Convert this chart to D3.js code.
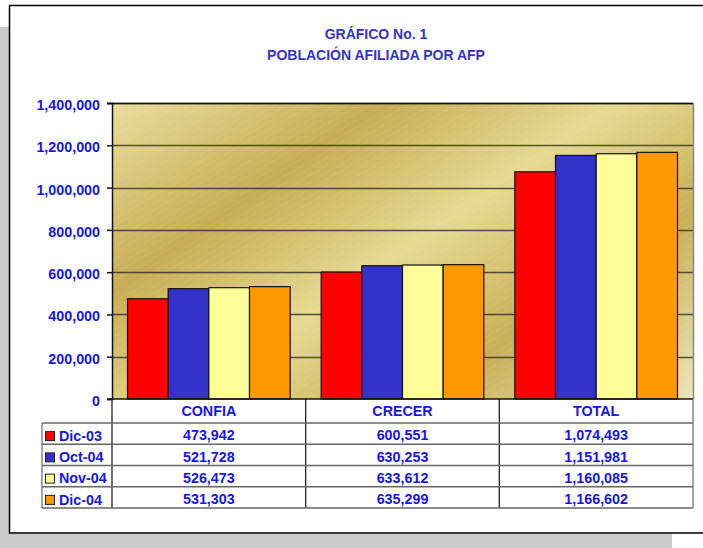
<!DOCTYPE html>
<html>
<head>
<meta charset="utf-8">
<script src="https://cdn.jsdelivr.net/npm/d3@7"></script>
<style>
  html, body { margin: 0; padding: 0; background: #ffffff; }
  svg { display: block; }
  text { font-family: "Liberation Sans", Arial, sans-serif; font-weight: bold; }
</style>
</head>
<body>
<svg id="chart" width="703" height="548"></svg>
<script>
// ---- Data ----
const categories = ["CONFIA", "CRECER", "TOTAL"];
const seriesNames = ["Dic-03", "Oct-04", "Nov-04", "Dic-04"];
const dic03 = [473942, 600551, 1074493];
const oct04 = [521728, 630253, 1151981];
const nov04 = [526473, 633612, 1160085];
const dic04 = [531303, 635299, 1166602];
const seriesColors = ["#FF0000", "#3333CC", "#FFFF99", "#FF9900"];
const yTicks = [0, 200000, 400000, 600000, 800000, 1000000, 1200000, 1400000];
const titleLines = ["GRÁFICO No. 1", "POBLACIÓN AFILIADA POR AFP"];

const seriesValues = [dic03, oct04, nov04, dic04];
const series = seriesNames.map((n, i) => ({ name: n, color: seriesColors[i], values: seriesValues[i] }));

// ---- Layout ----
const svg = d3.select("#chart");
const plot = { left: 112, right: 693, top: 103, bottom: 399 };
const textBlue = "#1515EE";
const titleBlue = "#3333CC";

// shadow + frame
svg.append("rect").attr("x", 0).attr("y", 27).attr("width", 672).attr("height", 521).attr("fill", "#cccccc");
svg.append("rect").attr("x", 9.5).attr("y", 5.5).attr("width", 720).attr("height", 527.5)
  .attr("fill", "#ffffff").attr("stroke", "#000").attr("stroke-width", 1.5);

// defs: gold gradient + stripes
const defs = svg.append("defs");
const grad = defs.append("linearGradient").attr("id", "gold")
  .attr("gradientUnits", "userSpaceOnUse")
  .attr("x1", 112).attr("y1", 103).attr("x2", 440).attr("y2", 575);
[[0, "#E9DE9E"], [0.27, "#C8AD55"], [0.5, "#E6DA92"], [0.73, "#C9AF58"], [1, "#EDE4B8"]]
  .forEach(([o, c]) => grad.append("stop").attr("offset", o).attr("stop-color", c));
const pat = defs.append("pattern").attr("id", "stripes").attr("patternUnits", "userSpaceOnUse")
  .attr("width", 6).attr("height", 6).attr("patternTransform", "rotate(-30)");
pat.append("line").attr("x1", 0).attr("y1", 0).attr("x2", 6).attr("y2", 0)
  .attr("stroke", "#ffffff").attr("stroke-opacity", 0.18).attr("stroke-width", 1).attr("stroke-dasharray", "2,1");

// scales
const x0 = d3.scaleBand().domain(categories).range([plot.left, plot.right]).padding(0);
const x1 = d3.scaleBand().domain(seriesNames).range([0, x0.bandwidth()]).paddingInner(0).paddingOuter(0.381);
const y = d3.scaleLinear().domain([0, 1400000]).range([plot.bottom, plot.top]);

// plot background
svg.append("rect").attr("x", plot.left).attr("y", plot.top)
  .attr("width", plot.right - plot.left).attr("height", plot.bottom - plot.top).attr("fill", "url(#gold)");
svg.append("rect").attr("x", plot.left).attr("y", plot.top)
  .attr("width", plot.right - plot.left).attr("height", plot.bottom - plot.top).attr("fill", "url(#stripes)");

// gridlines
svg.append("g").selectAll("line").data(yTicks.filter(t => t > 0)).join("line")
  .attr("x1", plot.left).attr("x2", plot.right)
  .attr("y1", d => Math.round(y(d)) + 0.5).attr("y2", d => Math.round(y(d)) + 0.5)
  .attr("stroke", "#222").attr("stroke-opacity", 0.75).attr("stroke-width", 1.5);

// right border of plot
svg.append("line").attr("x1", plot.right + 0.5).attr("x2", plot.right + 0.5)
  .attr("y1", plot.top).attr("y2", plot.bottom).attr("stroke", "#888").attr("stroke-width", 1.5);

// bars
const groups = svg.append("g").selectAll("g").data(categories).join("g")
  .attr("transform", d => `translate(${x0(d)},0)`);
groups.selectAll("rect.bar").data((c, ci) => series.map(s => ({ s, v: s.values[ci] }))).join("rect")
  .attr("class", "bar")
  .attr("x", d => x1(d.s.name))
  .attr("y", d => y(d.v))
  .attr("width", x1.bandwidth())
  .attr("height", d => y(0) - y(d.v))
  .attr("fill", d => d.s.color)
  .attr("stroke", "#111").attr("stroke-width", 1.2);

// y axis
const yAxis = d3.axisLeft(y).tickValues(yTicks).tickFormat(d3.format(",")).tickSize(5).tickPadding(7);
const ga = svg.append("g").attr("transform", `translate(${plot.left},0)`).call(yAxis);
ga.select(".domain").attr("stroke", "#111").attr("stroke-width", 1.5);
ga.selectAll(".tick line").attr("stroke", "#111").attr("stroke-width", 1.5);
ga.selectAll(".tick text").attr("fill", textBlue).attr("font-size", "14.3px").attr("dy", "0.45em")
  .attr("font-family", "'Liberation Sans', Arial, sans-serif").attr("font-weight", "bold");

// top line of plot
svg.append("line").attr("x1", plot.left - 5).attr("x2", plot.right)
  .attr("y1", plot.top + 0.5).attr("y2", plot.top + 0.5).attr("stroke", "#111").attr("stroke-width", 1.5);
// x axis baseline
svg.append("line").attr("x1", plot.left - 5).attr("x2", plot.right)
  .attr("y1", plot.bottom).attr("y2", plot.bottom).attr("stroke", "#111").attr("stroke-width", 1.5);

// ---- Data table ----
const headerBottom = 423;
const rowH = 21.25;
const legendLeft = 42;
const tableBottom = headerBottom + rowH * seriesNames.length;
const tbl = svg.append("g");

// vertical lines
const colEdges = [plot.left].concat(categories.map(c => x0(c) + x0.bandwidth()));
tbl.selectAll("line.v").data(colEdges).join("line").attr("class", "v")
  .attr("x1", d => d).attr("x2", d => d).attr("y1", plot.bottom).attr("y2", tableBottom)
  .attr("stroke", (d, i) => i === colEdges.length - 1 ? "#777" : "#222").attr("stroke-width", 1.3);
tbl.append("line").attr("x1", legendLeft).attr("x2", legendLeft)
  .attr("y1", headerBottom).attr("y2", tableBottom).attr("stroke", "#777").attr("stroke-width", 1.3);
// horizontal lines
tbl.selectAll("line.h").data(d3.range(seriesNames.length + 1)).join("line").attr("class", "h")
  .attr("x1", legendLeft).attr("x2", plot.right)
  .attr("y1", i => headerBottom + i * rowH).attr("y2", i => headerBottom + i * rowH)
  .attr("stroke", "#666").attr("stroke-width", 1.6);

// header text
tbl.selectAll("text.hdr").data(categories).join("text").attr("class", "hdr")
  .attr("x", d => x0(d) + x0.bandwidth() / 2).attr("y", 416)
  .attr("text-anchor", "middle").attr("fill", textBlue).attr("font-size", "14.3px").text(d => d);

// rows
const fmt = d3.format(",");
series.forEach((s, i) => {
  const cy = headerBottom + i * rowH + rowH / 2;
  tbl.append("rect").attr("x", 45.5).attr("y", cy - 2).attr("width", 9).attr("height", 9)
    .attr("fill", s.color).attr("stroke", "#222").attr("stroke-width", 1);
  tbl.append("text").attr("x", 59).attr("y", cy + 7.2).attr("fill", textBlue)
    .attr("font-size", "14.3px").text(s.name);
  categories.forEach((c, ci) => {
    tbl.append("text").attr("x", x0(c) + x0.bandwidth() / 2).attr("y", cy + 6.8)
      .attr("text-anchor", "middle").attr("fill", textBlue).attr("font-size", "14.3px")
      .text(fmt(s.values[ci]));
  });
});

// title
svg.append("g").selectAll("text").data(titleLines).join("text")
  .attr("x", 376).attr("y", (d, i) => 38.5 + i * 21)
  .attr("text-anchor", "middle").attr("fill", titleBlue).attr("font-size", "14px").text(d => d);
</script>
</body>
</html>
